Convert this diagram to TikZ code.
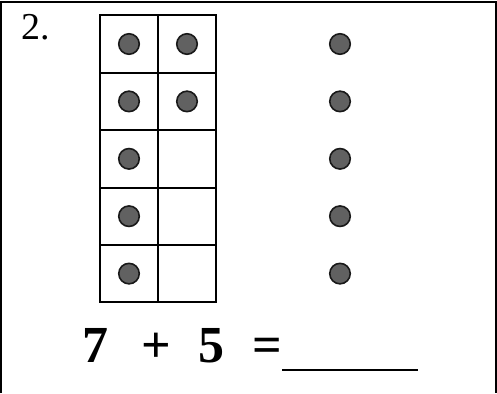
\documentclass[tikz,border=0pt]{standalone}
\usepackage{fontspec}
\setmainfont{Liberation Serif}
\begin{document}
\begin{tikzpicture}[x=1pt,y=-1pt,
  cellbox/.style={draw=black,line width=1.9pt,minimum width=58pt,minimum height=57.5pt,inner sep=0pt,outer sep=0pt},
  counter/.style={circle,draw=black!90,line width=1.6pt,fill=black!62,minimum size=20.5pt,inner sep=0pt},
  numtext/.style={font=\fontsize{52}{52}\selectfont\bfseries,anchor=base,inner sep=0pt}]
\useasboundingbox (0,0) rectangle (497,393);
% frame
\draw[line width=2.2pt] (1,393) -- (1,2) -- (496,2) -- (496,393);
% label
\node[font=\fontsize{38}{38}\selectfont,anchor=base west,inner sep=0pt] (lbl) at (21,40) {2.};
% ten frame
\foreach \r in {0,...,4}{
  \foreach \c in {0,1}{
    \node[cellbox] (cell\r\c) at (129+58*\c,44+57.4*\r) {};
  }
}
% counters in frame
\node[counter] (f1) at (cell00) {};
\node[counter] (f2) at (cell01) {};
\node[counter] (f3) at (cell10) {};
\node[counter] (f4) at (cell11) {};
\node[counter] (f5) at (cell20) {};
\node[counter] (f6) at (cell30) {};
\node[counter] (f7) at (cell40) {};
% loose counters
\foreach \i in {0,...,4}{
  \node[counter] (d\i) at (340,44+57.4*\i) {};
}
% equation
\node[numtext] (n7) at (95,362) {7};
\node[numtext] (plus) at (156,362) {+};
\node[numtext] (n5) at (211,362) {5};
\node[numtext] (eq) at (267,362) {=};
\coordinate (ul1) at (282,370);
\coordinate (ul2) at (418,370);
\draw[line width=2pt] (ul1) -- (ul2);
\end{tikzpicture}
\end{document}
